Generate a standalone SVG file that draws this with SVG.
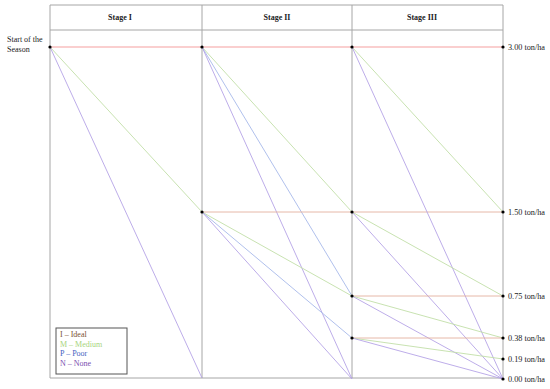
<svg xmlns="http://www.w3.org/2000/svg" width="550" height="389" viewBox="0 0 550 389">
<style>
text{font-family:"Liberation Serif","Times New Roman",serif;font-size:8px;fill:#222}
.hd{font-weight:bold;text-anchor:middle}
.lb{font-size:7.6px}
.grid{stroke:#a6a6a6;stroke-width:1;fill:none}
.c line{stroke-width:0.9}
.I0{stroke:#f49494}
.I{stroke:#e3b09e}
.M{stroke:#c2dfa8}
.P{stroke:#a7b9ea}
.N{stroke:#b6a4e6}
.dot{fill:#000}
</style>
<rect width="550" height="389" fill="#fff"/>
<g id="table" class="grid">
<line x1="50" y1="5" x2="503" y2="5"/>
<line x1="50" y1="30" x2="503" y2="30"/>
<line x1="50" y1="378" x2="503" y2="378"/>
<line x1="50" y1="5" x2="50" y2="378"/>
<line x1="202" y1="5" x2="202" y2="378"/>
<line x1="352" y1="5" x2="352" y2="378"/>
<line x1="503" y1="5" x2="503" y2="378"/>
</g>
<g id="headers">
<text class="hd" x="120" y="20">Stage I</text>
<text class="hd" x="277" y="20">Stage II</text>
<text class="hd" x="422" y="20">Stage III</text>
<text x="7" y="42">Start of the</text>
<text x="7" y="52">Season</text>
</g>
<g id="connectors" class="c">
<line class="I0" x1="50" y1="47" x2="503" y2="47"/>
<line class="M" x1="50" y1="47" x2="202" y2="212"/>
<line class="N" x1="50" y1="47" x2="202" y2="378"/>
<line class="M" x1="202" y1="47" x2="352" y2="212"/>
<line class="P" x1="202" y1="47" x2="352" y2="296"/>
<line class="N" x1="202" y1="47" x2="352" y2="379"/>
<line class="I" x1="202" y1="212" x2="503" y2="212"/>
<line class="M" x1="202" y1="212" x2="352" y2="296"/>
<line class="P" x1="202" y1="212" x2="352" y2="338"/>
<line class="N" x1="202" y1="212" x2="352" y2="379"/>
<line class="M" x1="352" y1="47" x2="503" y2="212"/>
<line class="N" x1="352" y1="47" x2="503" y2="379"/>
<line class="M" x1="352" y1="212" x2="503" y2="296"/>
<line class="N" x1="352" y1="212" x2="503" y2="379"/>
<line class="I" x1="352" y1="296" x2="503" y2="296"/>
<line class="M" x1="352" y1="296" x2="503" y2="338"/>
<line class="N" x1="352" y1="296" x2="503" y2="379"/>
<line class="I" x1="352" y1="338" x2="503" y2="338"/>
<line class="M" x1="352" y1="338" x2="503" y2="359"/>
<line class="N" x1="352" y1="338" x2="503" y2="379"/>
</g>
<g id="n-start"><circle class="dot" cx="50" cy="47" r="1.6"/></g>
<g id="n-s2-300"><circle class="dot" cx="202" cy="47" r="1.6"/></g>
<g id="n-s2-150"><circle class="dot" cx="202" cy="212" r="1.6"/></g>
<g id="n-s3-300"><circle class="dot" cx="352" cy="47" r="1.6"/></g>
<g id="n-s3-150"><circle class="dot" cx="352" cy="212" r="1.6"/></g>
<g id="n-s3-075"><circle class="dot" cx="352" cy="296" r="1.6"/></g>
<g id="n-s3-038"><circle class="dot" cx="352" cy="338" r="1.6"/></g>
<g id="n-end-300"><circle class="dot" cx="503" cy="47" r="1.6"/><text class="lb" x="508" y="50" textLength="37" lengthAdjust="spacingAndGlyphs">3.00 ton/ha</text></g>
<g id="n-end-150"><circle class="dot" cx="503" cy="212" r="1.6"/><text class="lb" x="508" y="215" textLength="37" lengthAdjust="spacingAndGlyphs">1.50 ton/ha</text></g>
<g id="n-end-075"><circle class="dot" cx="503" cy="296" r="1.6"/><text class="lb" x="508" y="299" textLength="37" lengthAdjust="spacingAndGlyphs">0.75 ton/ha</text></g>
<g id="n-end-038"><circle class="dot" cx="503" cy="338" r="1.6"/><text class="lb" x="508" y="341" textLength="37" lengthAdjust="spacingAndGlyphs">0.38 ton/ha</text></g>
<g id="n-end-019"><circle class="dot" cx="503" cy="359" r="1.6"/><text class="lb" x="508" y="362" textLength="37" lengthAdjust="spacingAndGlyphs">0.19 ton/ha</text></g>
<g id="n-end-000"><circle class="dot" cx="503" cy="379" r="1.6"/><text class="lb" x="508" y="382" textLength="37" lengthAdjust="spacingAndGlyphs">0.00 ton/ha</text></g>
<g id="legend">
<rect x="56" y="328" width="71" height="46" fill="#fff" stroke="#555" stroke-width="1"/>
<text x="60" y="337" style="fill:#7a5232">I – Ideal</text>
<text x="60" y="347" style="fill:#a8d47e">M – Medium</text>
<text x="60" y="356" style="fill:#3f5fc0">P – Poor</text>
<text x="60" y="366" style="fill:#7a4fb0">N – None</text>
</g>
</svg>
